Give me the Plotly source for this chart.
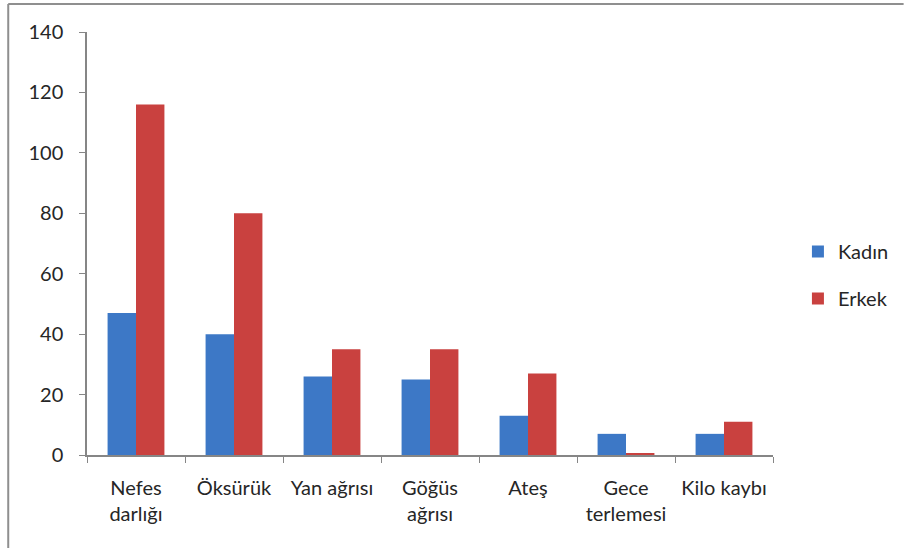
import plotly.graph_objects as go

# Symptom counts by sex
categories = ["Nefes<br>darlığı", "Öksürük", "Yan ağrısı", "Göğüs<br>ağrısı",
              "Ateş", "Gece<br>terlemesi", "Kilo kaybı"]
kadin = [47, 40, 26, 25, 13, 7, 7]
erkek = [116, 80, 35, 35, 27, 0.5, 11]
y_ticks = [0, 20, 40, 60, 80, 100, 120, 140]

W, H = 906, 548
L, R, T, B = 87, 131, 32, 93
pw, ph = W - L - R, H - T - B

FONT = "Lato, Carlito, Calibri, sans-serif"
AXIS = "#868686"

fig = go.Figure()
fig.add_trace(go.Bar(name="Kadın", x=categories, y=kadin, marker_color="#3D78C6",
                     marker_line_width=0, legendgroup="k"))
fig.add_trace(go.Bar(name="Erkek", x=categories, y=erkek, marker_color="#C9413F",
                     marker_line_width=0, legendgroup="e"))

# Outer chart frame (top and left edges)
def px_x(px):
    return (px - L) / pw

def px_y(py):
    return (H - B - py) / ph

fig.add_shape(type="line", xref="paper", yref="paper",
              x0=px_x(8), x1=px_x(906), y0=px_y(4), y1=px_y(4),
              line=dict(color="#8f8f8f", width=2))
fig.add_shape(type="line", xref="paper", yref="paper",
              x0=px_x(8), x1=px_x(8), y0=px_y(4), y1=px_y(548),
              line=dict(color="#8f8f8f", width=2))

fig.update_layout(
    width=W, height=H,
    margin=dict(l=L, r=R, t=T, b=B),
    paper_bgcolor="white", plot_bgcolor="white",
    barmode="group", bargap=0.42, bargroupgap=0,
    font=dict(family=FONT, size=20, color="#262626"),
    showlegend=True,
    legend=dict(x=px_x(800), y=px_y(275), xanchor="left", yanchor="middle",
                font=dict(size=20), traceorder="grouped", tracegroupgap=18,
                bgcolor="rgba(0,0,0,0)"),
)
fig.update_xaxes(showline=True, linecolor=AXIS, linewidth=1.5,
                 ticks="outside", tickson="boundaries", ticklen=6, tickcolor=AXIS,
                 showgrid=False, tickfont=dict(size=20), ticklabelstandoff=14)
fig.update_yaxes(range=[0, 140], tickvals=y_ticks, showline=True, linecolor=AXIS,
                 linewidth=1.5, ticks="outside", ticklen=6, tickcolor=AXIS,
                 showgrid=False, zeroline=False, tickfont=dict(size=20),
                 ticklabelstandoff=12)

fig.write_html("out.html")
